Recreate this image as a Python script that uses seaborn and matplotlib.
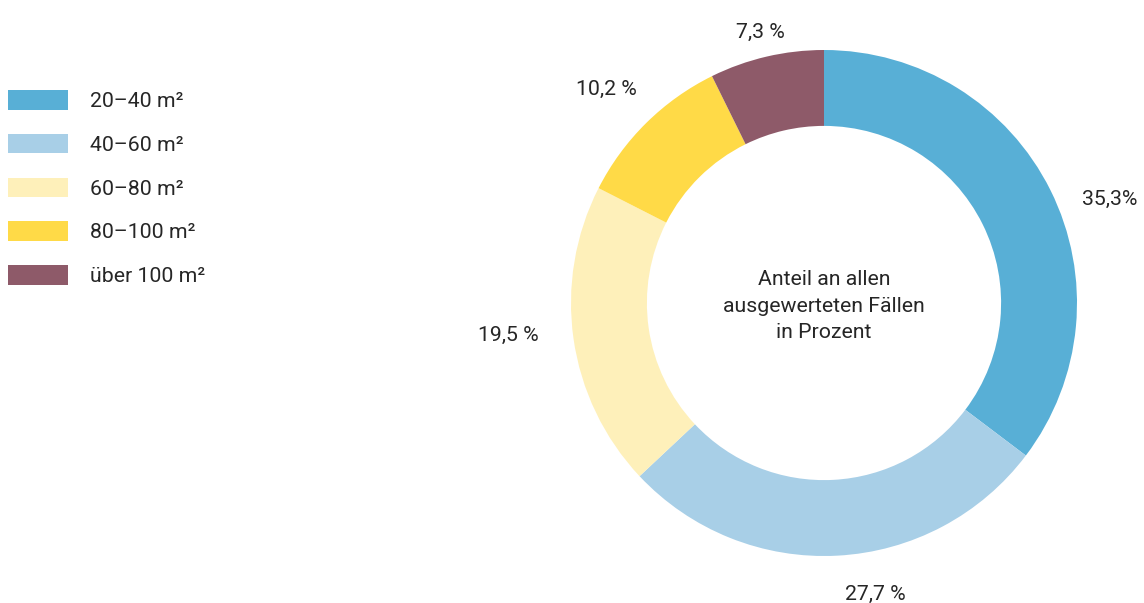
import numpy as np
import matplotlib
matplotlib.use("Agg")
import matplotlib.pyplot as plt
from matplotlib.patches import Patch
import seaborn as sns

# Flat size classes and their share of all evaluated cases (%)
categories = ["20–40 m²", "40–60 m²", "60–80 m²", "80–100 m²", "über 100 m²"]
shares = [35.3, 27.7, 19.5, 10.2, 7.3]
value_labels = ["35,3%", "27,7 %", "19,5 %", "10,2 %", "7,3 %"]
center_text = "Anteil an allen\nausgewerteten Fällen\nin Prozent"

colors = ["#58AFD6", "#A8CFE7", "#FEF0BA", "#FFDA47", "#8E5A69"]

sns.set_theme(style="white")
plt.rcParams["font.family"] = ["Roboto", "DejaVu Sans"]
text_color = "#262626"
fs = 15.3
fpx = fs * 100 / 72

fig = plt.figure(figsize=(11.44, 6.03), dpi=100)
W, H = 1144, 603
cx, cy, r = 824, 303, 253
ax = fig.add_axes([(cx - r) / W, 1 - (cy + r) / H, 2 * r / W, 2 * r / H])

wedges, _ = ax.pie(shares, colors=colors, startangle=90, counterclock=False,
                   radius=1.0, wedgeprops=dict(width=0.3, linewidth=0))
ax.set_xlim(-1, 1)
ax.set_ylim(-1, 1)
ax.set_aspect("equal")
ax.axis("off")

# Value labels outside the ring, placed along each wedge's middle angle
label_dist = [1.20, 1.17, 1.255, 1.205, 1.10]
angle_shift = [-6.5, 7, -2.3, 1, 0]
for w, txt, d, s in zip(wedges, value_labels, label_dist, angle_shift):
    mid = np.deg2rad((w.theta1 + w.theta2) / 2 + s)
    ax.text(d * np.cos(mid), d * np.sin(mid), txt, ha="center", va="center",
            fontsize=fs, color=text_color, clip_on=False)

ax.text(0, -0.012, center_text, ha="center", va="center", fontsize=fs,
        color=text_color, linespacing=1.5)

handles = [Patch(facecolor=c, edgecolor="none") for c in colors]
fig.legend(handles, categories, loc="upper left",
           bbox_to_anchor=(8 / W, 1 - 90 / H), frameon=False, fontsize=fs,
           handlelength=60 / fpx, handleheight=22 / fpx, labelspacing=22.8 / fpx,
           handletextpad=22 / fpx, borderpad=0, borderaxespad=0,
           labelcolor=text_color)

fig.savefig("out.png", dpi=100, facecolor="white")
